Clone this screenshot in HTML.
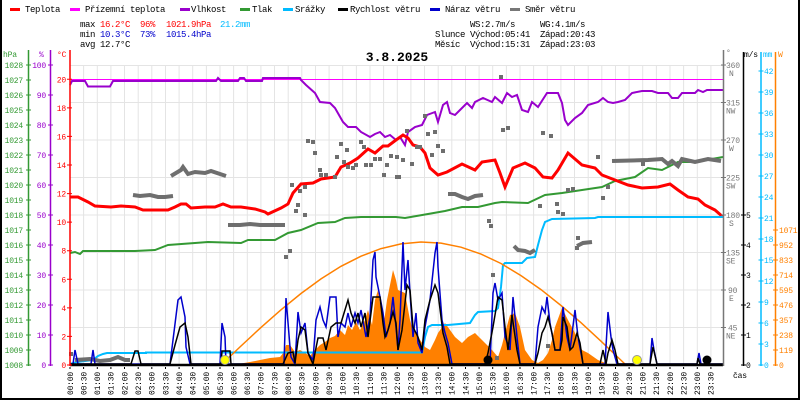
<!DOCTYPE html>
<html><head><meta charset="utf-8"><style>
html,body{margin:0;padding:0;background:#fff;}
svg{display:block;}
text{font-family:"Liberation Mono","DejaVu Sans Mono",monospace;}
.lg{font-size:9px;letter-spacing:-0.4px;}
.ax{font-size:8px;letter-spacing:-0.2px;}
</style></head><body>
<svg width="800" height="400" viewBox="0 0 800 400" xmlns="http://www.w3.org/2000/svg">
<rect x="0" y="0" width="800" height="400" fill="#fff"/>
<!-- border -->
<path d="M1 0V399H799V0" fill="none" stroke="#000" stroke-width="2"/>

<!-- legend -->
<g class="lg">
<rect x="10" y="8" width="10" height="3" fill="#ff0000"/><text x="25" y="12">Teplota</text>
<rect x="70" y="8" width="10" height="3" fill="#ff00ff"/><text x="85" y="12">Přízemní teplota</text>
<rect x="180" y="8" width="10" height="3" fill="#9900cc"/><text x="191" y="12">Vlhkost</text>
<rect x="240" y="8" width="10" height="3" fill="#339933"/><text x="252" y="12">Tlak</text>
<rect x="283" y="8" width="10" height="3" fill="#00bbff"/><text x="295" y="12">Srážky</text>
<rect x="338" y="8" width="10" height="3" fill="#000"/><text x="350" y="12">Rychlost větru</text>
<rect x="430" y="8" width="10" height="3" fill="#0000cc"/><text x="445" y="12">Náraz větru</text>
<rect x="510" y="8" width="10" height="3" fill="#777"/><text x="525" y="12">Směr větru</text>

<text x="80" y="27">max</text><text x="100" y="27" fill="#ff0000">16.2°C</text><text x="140" y="27" fill="#ff0000">96%</text><text x="166" y="27" fill="#ff0000">1021.9hPa</text><text x="220" y="27" fill="#00bbff">21.2mm</text>
<text x="80" y="37">min</text><text x="100" y="37" fill="#0000cc">10.3°C</text><text x="140" y="37" fill="#0000cc">73%</text><text x="166" y="37" fill="#0000cc">1015.4hPa</text>
<text x="80" y="47">avg</text><text x="100" y="47">12.7°C</text>

<text x="470" y="27">WS:2.7m/s</text><text x="540" y="27">WG:4.1m/s</text>
<text x="435" y="37">Slunce</text><text x="470" y="37">Východ:05:41</text><text x="540" y="37">Západ:20:43</text>
<text x="435" y="47">Měsíc</text><text x="470" y="47">Východ:15:31</text><text x="540" y="47">Západ:23:03</text>
</g>

<!-- title -->
<text x="397" y="61" text-anchor="middle" font-size="13" font-weight="bold">3.8.2025</text>

<!-- grid -->
<path d="M83.6 65V365M97.3 65V365M110.9 65V365M124.5 65V365M138.2 65V365M151.8 65V365M165.5 65V365M179.1 65V365M192.7 65V365M206.4 65V365M220 65V365M233.6 65V365M247.3 65V365M260.9 65V365M274.5 65V365M288.2 65V365M301.8 65V365M315.5 65V365M329.1 65V365M342.7 65V365M356.4 65V365M370 65V365M383.6 65V365M397.3 65V365M410.9 65V365M424.5 65V365M438.2 65V365M451.8 65V365M465.5 65V365M479.1 65V365M492.7 65V365M506.4 65V365M520 65V365M533.6 65V365M547.3 65V365M560.9 65V365M574.5 65V365M588.2 65V365M601.8 65V365M615.5 65V365M629.1 65V365M642.7 65V365M656.4 65V365M670 65V365M683.6 65V365M697.3 65V365M710.9 65V365M70 65.5H723M70 102.5H723M70 140H723M70 177.5H723M70 215H723M70 252.5H723M70 290H723M70 327.5H723" stroke="#e4e4e4" stroke-width="1" fill="none"/>

<!-- solar radiation fill -->
<polygon fill="#ff8000" points="221,365 238,364 250,362 260,360 270,358 280,357 284,352 286,345 290,345 295,352 300,350 305,353 310,356 315,350 320,345 325,342 330,338 335,336 340,330 345,335 348,325 352,330 356,322 360,330 365,320 368,310 372,325 375,300 378,290 381,310 384,322 387,300 390,285 393,270 396,280 398,290 405,293 410,320 412,327 418,337 425,347 430,350 435,340 438,333 445,323 450,330 455,337 462,343 468,337 475,333 482,340 492,350 498,357 502,345 505,333 510,315 515,313 520,327 525,350 532,360 538,363 543,360 548,353 552,340 555,327 562,308 568,320 575,333 582,350 588,353 598,360 608,364 608,365"/>

<!-- magenta ground temp -->
<line x1="70" y1="79.5" x2="723" y2="79.5" stroke="#ff00ff" stroke-width="1"/>

<!-- humidity -->
<polyline fill="none" stroke="#9900cc" stroke-width="2" points="70,85 72,81 85,81 88,86.5 110,86.5 113,81 216,81 218,78 221,81 238,81 240,78 244,78 246,81 262,81 263,78 300,78 301,80 306,85 315,93 320,102 330,103 335,108 343,122 348,127 356,127 361,132 370,137 375,134 380,132 385,137 390,135 396,140 400,137 405,145 408,132 415,127 422,125 427,115 435,112 438,122 443,105 447,102 450,113 455,115 460,110 467,103 472,108 475,102 483,98 492,102 495,97 502,103 507,93 512,97 517,95 522,110 528,112 532,102 538,107 547,93 558,93 562,103 565,120 568,125 575,118 582,113 588,105 598,102 603,98 608,102 613,103 618,102 625,100 632,93 642,91 652,91 658,93 668,93 672,98 678,98 682,93 695,93 698,90 703,92 707,90 723,90"/>

<!-- pressure -->
<polyline fill="none" stroke="#339933" stroke-width="2" points="70,253 75,252 80,254 83,251 95,251 135,251 155,250 168,245 195,243 208,242 241,243 248,240 275,240 288,233 301,230 318,223 335,222 345,218 361,217 381,217 396,217 405,218 428,214 445,211 462,207 478,207 495,203 502,202 528,203 545,195 562,193 582,190 602,187 615,181 635,177 648,168 662,170 678,162 695,162 723,157"/>

<!-- temperature -->
<polyline fill="none" stroke="#ff0000" stroke-width="3" points="70,197 78,197 88,202 95,206 111,207 121,206 135,207 143,210 168,210 175,207 181,204 186,204 191,208 205,207 215,207 223,204 231,207 241,207 255,209 265,212 268,214 281,208 288,204 293,193 301,184 313,183 321,179 335,177 341,167 350,163 358,158 368,149 375,153 383,146 388,146 396,140 403,135 408,138 413,145 420,147 425,153 430,168 438,175 447,172 462,164 475,170 482,162 495,160 500,173 505,187 513,168 525,163 535,168 543,177 552,178 558,170 568,153 582,165 595,168 602,175 615,180 628,185 642,188 658,187 670,184 678,190 688,197 698,199 705,205 715,210 723,217"/>

<!-- rain -->
<polyline fill="none" stroke="#00bbff" stroke-width="2" points="70,364 77,362 93,360 98,356 103,354 107,353 146,353 146,352.5 422,352.5 425,337 428,327 432,325 448,325 470,323 475,315 478,312 495,311 498,308 501,287 503,265 505,263 522,263 527,258 535,257 538,245 542,230 545,222 552,219 595,218 598,217 723,217"/>

<!-- solar curve -->
<polyline fill="none" stroke="#ff8000" stroke-width="1.5" points="221,365 231,355.5 241,346 261,327.4 281,309.8 301,293.5 321,278.9 341,266.3 361,256.2 381,248.6 401,243.9 421,242 441,243.1 461,247.2 481,254.1 501,263.5 521,275.6 541,289.6 561,305.5 581,322.7 601,341.2 616,355.5 626,365"/>

<!-- wind direction -->
<g fill="none" stroke="#6e6e6e" stroke-width="4">
<polyline points="75,360 90,359 100,361 110,360 118,357 125,360 130,360"/>
<polyline points="133,195 140,196 150,195 158,197 165,197 173,196"/>
<polyline points="171,176 181,170 183,167 188,174 195,172 205,173 211,171 220,174 226,176"/>
<polyline points="228,225 240,225 250,224 260,225 285,225"/>
<polyline points="448,194 455,194 462,197 468,199 475,196 483,195"/>
<polyline points="514,246 518,250 525,251 530,253 535,250"/>
<polyline points="577,246 583,243 592,242"/>
<polyline points="612,161 648,160 662,159 668,164 672,161 678,166 682,159 695,162 708,159 721,161"/>
</g>
<g fill="#6e6e6e">
<rect x="69" y="352" width="4" height="4"/><rect x="284" y="255" width="4" height="4"/><rect x="288" y="249" width="4" height="4"/><rect x="290" y="183" width="4" height="4"/><rect x="296" y="203" width="4" height="4"/><rect x="294" y="209" width="4" height="4"/><rect x="298" y="189" width="4" height="4"/><rect x="303" y="185" width="4" height="4"/><rect x="303" y="213" width="4" height="4"/><rect x="306" y="139" width="4" height="4"/><rect x="311" y="140" width="4" height="4"/><rect x="313" y="151" width="4" height="4"/><rect x="318" y="168" width="4" height="4"/><rect x="319" y="173" width="4" height="4"/><rect x="324" y="173" width="4" height="4"/><rect x="333" y="175" width="4" height="4"/><rect x="335" y="155" width="4" height="4"/><rect x="339" y="142" width="4" height="4"/><rect x="342" y="160" width="4" height="4"/><rect x="345" y="148" width="4" height="4"/><rect x="346" y="165" width="4" height="4"/><rect x="351" y="166" width="4" height="4"/><rect x="354" y="163" width="4" height="4"/><rect x="359" y="140" width="4" height="4"/><rect x="362" y="145" width="4" height="4"/><rect x="364" y="163" width="4" height="4"/><rect x="369" y="163" width="4" height="4"/><rect x="373" y="157" width="4" height="4"/><rect x="378" y="157" width="4" height="4"/><rect x="382" y="173" width="4" height="4"/><rect x="385" y="163" width="4" height="4"/><rect x="389" y="154" width="4" height="4"/><rect x="395" y="175" width="4" height="4"/><rect x="395" y="155" width="4" height="4"/><rect x="397" y="175" width="4" height="4"/><rect x="401" y="158" width="4" height="4"/><rect x="405" y="129" width="4" height="4"/><rect x="410" y="162" width="4" height="4"/><rect x="415" y="145" width="4" height="4"/><rect x="418" y="145" width="4" height="4"/><rect x="423" y="114" width="4" height="4"/><rect x="426" y="132" width="4" height="4"/><rect x="430" y="153" width="4" height="4"/><rect x="433" y="130" width="4" height="4"/><rect x="436" y="144" width="4" height="4"/><rect x="441" y="149" width="4" height="4"/><rect x="487" y="219" width="4" height="4"/><rect x="489" y="224" width="4" height="4"/><rect x="499" y="75" width="4" height="4"/><rect x="501" y="128" width="4" height="4"/><rect x="506" y="126" width="4" height="4"/><rect x="538" y="204" width="4" height="4"/><rect x="541" y="131" width="4" height="4"/><rect x="549" y="134" width="4" height="4"/><rect x="555" y="202" width="4" height="4"/><rect x="556" y="210" width="4" height="4"/><rect x="561" y="212" width="4" height="4"/><rect x="566" y="188" width="4" height="4"/><rect x="571" y="187" width="4" height="4"/><rect x="575" y="246" width="4" height="4"/><rect x="576" y="236" width="4" height="4"/><rect x="596" y="155" width="4" height="4"/><rect x="601" y="196" width="4" height="4"/><rect x="606" y="185" width="4" height="4"/><rect x="641" y="162" width="4" height="4"/><rect x="491" y="273" width="4" height="4"/><rect x="495" y="356" width="4" height="4"/><rect x="546" y="344" width="4" height="4"/>
</g>

<!-- gust -->
<polyline fill="none" stroke="#0000cc" stroke-width="1.5" points="70,364 73,364 75,350 78,364 91,364 93,350 95,364 170,364 178,300 181,297 185,317 186,347 190,364 220,364 222,323 225,337 226,364 284,364 286,298 290,347 291,357 295,364 298,312 301,333 305,323 308,353 313,360 316,320 320,307 323,320 326,327 330,297 336,297 338,337 341,323 345,327 348,313 351,327 355,313 358,323 361,310 366,337 370,317 373,260 375,252 376,277 380,297 383,313 386,337 390,323 393,297 396,327 398,350 400,320 403,242 405,290 408,260 410,293 413,337 416,313 418,343 422,353 425,327 430,300 435,253 437,242 438,267 442,320 445,333 448,343 452,364 490,364 493,293 495,283 498,300 502,293 505,337 510,350 513,297 517,337 520,364 535,364 538,327 542,307 545,313 547,297 550,323 555,350 560,350 563,307 567,337 570,350 575,310 578,337 583,364 605,364 608,312 611,337 613,350 617,364 650,364 652,338 654,350 657,364 697,364 699,353 701,364 723,364"/>

<!-- wind speed -->
<polyline fill="none" stroke="#000" stroke-width="1.5" points="70,364 131,364 135,351 138,351 141,364 170,364 175,345 180,327 185,323 188,337 191,364 221,364 222,351 230,351 231,364 283,364 288,353 293,352 295,363 298,340 301,327 305,330 308,353 313,364 315,353 318,338 323,338 326,350 331,327 336,323 341,323 348,300 351,313 355,323 358,313 361,327 365,313 368,337 373,297 380,297 383,323 385,337 388,330 393,312 396,323 398,350 402,330 407,285 410,290 413,327 418,337 422,350 425,320 430,300 435,285 438,293 443,333 447,347 450,364 485,364 488,353 493,327 498,297 502,300 505,327 508,350 512,315 517,350 520,364 535,364 538,353 542,333 545,327 548,317 552,333 555,350 560,350 562,340 563,317 567,327 570,350 573,347 577,333 580,343 583,364 600,364 603,350 606,364 608,353 612,340 615,350 618,364 650,364 653,347 657,364 697,364 698,358 700,364 723,364"/>
<line x1="70" y1="365" x2="723" y2="365" stroke="#000" stroke-width="2.5"/>

<!-- sun / moon markers -->
<circle cx="225" cy="360" r="4.5" fill="#ffff00" stroke="#999" stroke-width="1"/>
<circle cx="637" cy="360" r="4.5" fill="#ffff00" stroke="#999" stroke-width="1"/>
<circle cx="488" cy="360" r="4.5" fill="#000"/>
<circle cx="707" cy="360" r="4.5" fill="#000"/>

<!-- axes lines -->
<line x1="28.5" y1="50" x2="28.5" y2="366" stroke="#339933" stroke-width="1.5"/>
<line x1="50.5" y1="50" x2="50.5" y2="366" stroke="#9900cc" stroke-width="1.5"/>
<line x1="70" y1="50" x2="70" y2="366" stroke="#ff0000" stroke-width="1.5"/>
<line x1="723.5" y1="50" x2="723.5" y2="366" stroke="#777" stroke-width="1.5"/>
<line x1="743.5" y1="52" x2="743.5" y2="366" stroke="#000" stroke-width="1.5"/>
<line x1="761" y1="52" x2="761" y2="366" stroke="#00bbff" stroke-width="1.5"/>
<line x1="775.5" y1="52" x2="775.5" y2="366" stroke="#ff8000" stroke-width="1.5"/>

<!-- ticks -->
<path d="M26 65H31M26 80H31M26 95H31M26 110H31M26 125H31M26 140H31M26 155H31M26 170H31M26 185H31M26 200H31M26 215H31M26 230H31M26 245H31M26 260H31M26 275H31M26 290H31M26 305H31M26 320H31M26 335H31M26 350H31M26 365H31" stroke="#339933" stroke-width="1"/>
<path d="M48 65H53M48 95H53M48 125H53M48 155H53M48 185H53M48 215H53M48 245H53M48 275H53M48 305H53M48 335H53M48 365H53" stroke="#9900cc" stroke-width="1"/>
<path d="M67 79.3H72M67 107.9H72M67 136.4H72M67 165H72M67 193.6H72M67 222.1H72M67 250.7H72M67 279.3H72M67 307.9H72M67 336.4H72M67 365H72" stroke="#ff0000" stroke-width="1"/>
<path d="M721 65H726M721 102.5H726M721 140H726M721 177.5H726M721 215H726M721 252.5H726M721 290H726M721 327.5H726" stroke="#777" stroke-width="1"/>
<path d="M741 215H746M741 245H746M741 275H746M741 305H746M741 335H746M741 365H746" stroke="#000" stroke-width="1"/>
<path d="M758.5 71H763.5M758.5 92H763.5M758.5 113H763.5M758.5 134H763.5M758.5 155H763.5M758.5 176H763.5M758.5 197H763.5M758.5 218H763.5M758.5 239H763.5M758.5 260H763.5M758.5 281H763.5M758.5 302H763.5M758.5 323H763.5M758.5 344H763.5M758.5 365H763.5" stroke="#00bbff" stroke-width="1"/>
<path d="M773 230H778M773 245H778M773 260H778M773 275H778M773 290H778M773 305H778M773 320H778M773 335H778M773 350H778M773 365H778" stroke="#ff8000" stroke-width="1"/>
<path d="M70 367V369M83.6 367V369M97.3 367V369M110.9 367V369M124.5 367V369M138.2 367V369M151.8 367V369M165.5 367V369M179.1 367V369M192.7 367V369M206.4 367V369M220 367V369M233.6 367V369M247.3 367V369M260.9 367V369M274.5 367V369M288.2 367V369M301.8 367V369M315.5 367V369M329.1 367V369M342.7 367V369M356.4 367V369M370 367V369M383.6 367V369M397.3 367V369M410.9 367V369M424.5 367V369M438.2 367V369M451.8 367V369M465.5 367V369M479.1 367V369M492.7 367V369M506.4 367V369M520 367V369M533.6 367V369M547.3 367V369M560.9 367V369M574.5 367V369M588.2 367V369M601.8 367V369M615.5 367V369M629.1 367V369M642.7 367V369M656.4 367V369M670 367V369M683.6 367V369M697.3 367V369M710.9 367V369" stroke="#000" stroke-width="1"/>

<!-- axis titles -->
<g class="ax">
<text x="3" y="57" fill="#339933">hPa</text>
<text x="39" y="57" fill="#9900cc">%</text>
<text x="57" y="57" fill="#ff0000">°C</text>
<text x="726" y="55" fill="#777">°</text>
<text x="744" y="57" fill="#000">m/s</text>
<text x="763" y="57" fill="#00bbff">mm</text>
<text x="778" y="57" fill="#ff8000">W</text>
<text x="733" y="378" fill="#000">čas</text>
</g>

<!-- hPa labels -->
<g class="ax" fill="#339933" text-anchor="end">
<text x="23" y="68">1028</text><text x="23" y="83">1027</text><text x="23" y="98">1026</text><text x="23" y="113">1025</text><text x="23" y="128">1024</text><text x="23" y="143">1023</text><text x="23" y="158">1022</text><text x="23" y="173">1021</text><text x="23" y="188">1020</text><text x="23" y="203">1019</text><text x="23" y="218">1018</text><text x="23" y="233">1017</text><text x="23" y="248">1016</text><text x="23" y="263">1015</text><text x="23" y="278">1014</text><text x="23" y="293">1013</text><text x="23" y="308">1012</text><text x="23" y="323">1011</text><text x="23" y="338">1010</text><text x="23" y="353">1009</text><text x="23" y="368">1008</text>
</g>
<!-- % labels -->
<g class="ax" fill="#9900cc" text-anchor="end">
<text x="46" y="68">100</text><text x="46" y="98">90</text><text x="46" y="128">80</text><text x="46" y="158">70</text><text x="46" y="188">60</text><text x="46" y="218">50</text><text x="46" y="248">40</text><text x="46" y="278">30</text><text x="46" y="308">20</text><text x="46" y="338">10</text><text x="46" y="368">0</text>
</g>
<!-- temp labels -->
<g class="ax" fill="#ff0000" text-anchor="end">
<text x="66" y="82.3">20</text><text x="66" y="110.9">18</text><text x="66" y="139.4">16</text><text x="66" y="168">14</text><text x="66" y="196.6">12</text><text x="66" y="225.1">10</text><text x="66" y="253.7">8</text><text x="66" y="282.3">6</text><text x="66" y="310.9">4</text><text x="66" y="339.4">2</text><text x="66" y="368">0</text>
</g>
<!-- direction labels -->
<g class="ax" fill="#777">
<text x="726" y="68">360</text><text x="729" y="76">N</text>
<text x="726" y="105.5">315</text><text x="726" y="113.5">NW</text>
<text x="726" y="143">270</text><text x="729" y="151">W</text>
<text x="726" y="180.5">225</text><text x="726" y="188.5">SW</text>
<text x="726" y="218">180</text><text x="729" y="226">S</text>
<text x="726" y="255.5">135</text><text x="726" y="263.5">SE</text>
<text x="728" y="293">90</text><text x="729" y="301">E</text>
<text x="728" y="330.5">45</text><text x="726" y="338.5">NE</text>
</g>
<!-- m/s labels -->
<g class="ax" fill="#000">
<text x="746" y="218">5</text><text x="746" y="248">4</text><text x="746" y="278">3</text><text x="746" y="308">2</text><text x="746" y="338">1</text><text x="746" y="368">0</text>
</g>
<!-- mm labels -->
<g class="ax" fill="#00bbff">
<text x="764" y="74">42</text><text x="764" y="95">39</text><text x="764" y="116">36</text><text x="764" y="137">33</text><text x="764" y="158">30</text><text x="764" y="179">27</text><text x="764" y="200">24</text><text x="764" y="221">21</text><text x="764" y="242">18</text><text x="764" y="263">15</text><text x="764" y="284">12</text><text x="764" y="305">9</text><text x="764" y="326">6</text><text x="764" y="347">3</text><text x="764" y="368">0</text>
</g>
<!-- W labels -->
<g class="ax" fill="#ff8000">
<text x="779" y="233">1071</text><text x="779" y="248">952</text><text x="779" y="263">833</text><text x="779" y="278">714</text><text x="779" y="293">595</text><text x="779" y="308">476</text><text x="779" y="323">357</text><text x="779" y="338">238</text><text x="779" y="353">119</text><text x="779" y="368">0</text>
</g>

<!-- time labels -->
<g class="ax" fill="#000" text-anchor="end">
<text transform="translate(72.8,372) rotate(-90)">00:00</text>
<text transform="translate(86.4,372) rotate(-90)">00:30</text>
<text transform="translate(100.1,372) rotate(-90)">01:00</text>
<text transform="translate(113.7,372) rotate(-90)">01:30</text>
<text transform="translate(127.3,372) rotate(-90)">02:00</text>
<text transform="translate(141,372) rotate(-90)">02:30</text>
<text transform="translate(154.6,372) rotate(-90)">03:00</text>
<text transform="translate(168.3,372) rotate(-90)">03:30</text>
<text transform="translate(181.9,372) rotate(-90)">04:00</text>
<text transform="translate(195.5,372) rotate(-90)">04:30</text>
<text transform="translate(209.2,372) rotate(-90)">05:00</text>
<text transform="translate(222.8,372) rotate(-90)">05:30</text>
<text transform="translate(236.4,372) rotate(-90)">06:00</text>
<text transform="translate(250.1,372) rotate(-90)">06:30</text>
<text transform="translate(263.7,372) rotate(-90)">07:00</text>
<text transform="translate(277.3,372) rotate(-90)">07:30</text>
<text transform="translate(291,372) rotate(-90)">08:00</text>
<text transform="translate(304.6,372) rotate(-90)">08:30</text>
<text transform="translate(318.3,372) rotate(-90)">09:00</text>
<text transform="translate(331.9,372) rotate(-90)">09:30</text>
<text transform="translate(345.5,372) rotate(-90)">10:00</text>
<text transform="translate(359.2,372) rotate(-90)">10:30</text>
<text transform="translate(372.8,372) rotate(-90)">11:00</text>
<text transform="translate(386.4,372) rotate(-90)">11:30</text>
<text transform="translate(400.1,372) rotate(-90)">12:00</text>
<text transform="translate(413.7,372) rotate(-90)">12:30</text>
<text transform="translate(427.3,372) rotate(-90)">13:00</text>
<text transform="translate(441,372) rotate(-90)">13:30</text>
<text transform="translate(454.6,372) rotate(-90)">14:00</text>
<text transform="translate(468.3,372) rotate(-90)">14:30</text>
<text transform="translate(481.9,372) rotate(-90)">15:00</text>
<text transform="translate(495.5,372) rotate(-90)">15:30</text>
<text transform="translate(509.2,372) rotate(-90)">16:00</text>
<text transform="translate(522.8,372) rotate(-90)">16:30</text>
<text transform="translate(536.4,372) rotate(-90)">17:00</text>
<text transform="translate(550.1,372) rotate(-90)">17:30</text>
<text transform="translate(563.7,372) rotate(-90)">18:00</text>
<text transform="translate(577.3,372) rotate(-90)">18:30</text>
<text transform="translate(591,372) rotate(-90)">19:00</text>
<text transform="translate(604.6,372) rotate(-90)">19:30</text>
<text transform="translate(618.3,372) rotate(-90)">20:00</text>
<text transform="translate(631.9,372) rotate(-90)">20:30</text>
<text transform="translate(645.5,372) rotate(-90)">21:00</text>
<text transform="translate(659.2,372) rotate(-90)">21:30</text>
<text transform="translate(672.8,372) rotate(-90)">22:00</text>
<text transform="translate(686.4,372) rotate(-90)">22:30</text>
<text transform="translate(700.1,372) rotate(-90)">23:00</text>
<text transform="translate(713.7,372) rotate(-90)">23:30</text>
</g>
</svg>
</body></html>
